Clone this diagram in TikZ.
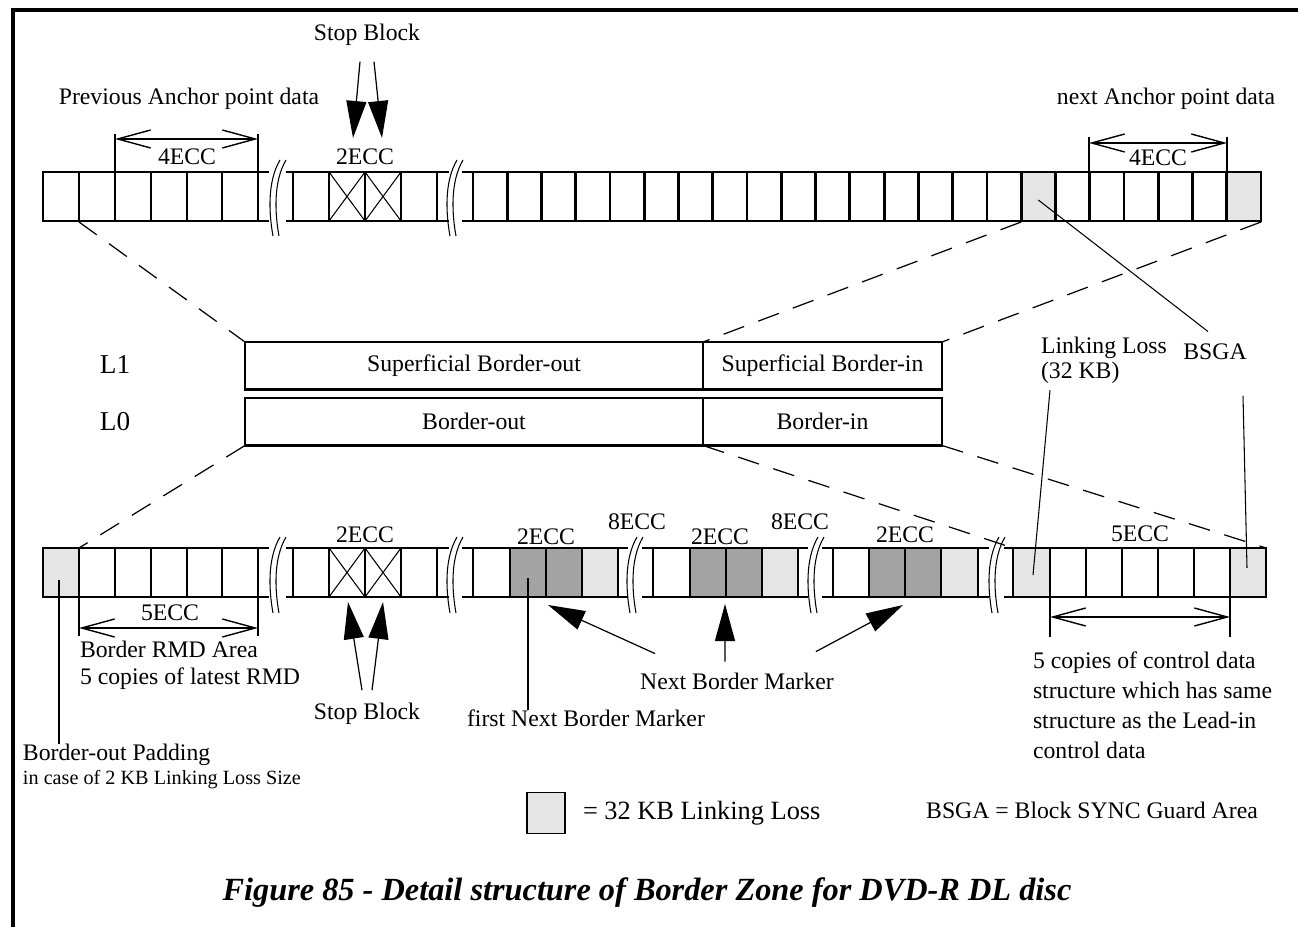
\documentclass[tikz,border=0pt]{standalone}
\usepackage{fontspec}
\setmainfont{Liberation Serif}
\usetikzlibrary{arrows.meta, positioning}

\begin{document}
\begin{tikzpicture}[x=0.2mm, y=-0.2mm,
    every node/.style={align=center, inner sep=0pt, outer sep=0pt, font=\fontsize{13.5}{15.3}\selectfont},
    cellline/.style={line width=1.6pt, line cap=rect},
    thinline/.style={line width=0.6pt},
    cutmark/.style={line width=0.6pt},
    dimline/.style={line width=1pt},
    dimarrow/.style={{Straight Barb[length=6.6mm,width=3.6mm]}-{Straight Barb[length=6.6mm,width=3.6mm]}, line width=0.8pt},
    fatarrow/.style={-{Triangle[length=7.4mm,width=4mm]}, line width=0.7pt},
    zoomline/.style={dash pattern=on 4.4mm off 3mm, line width=0.7pt},
    layerbox/.style={draw, line width=1.4pt, minimum height=9.5mm}]
  \colorlet{lossbg}{black!10} \colorlet{markbg}{black!36}
  \useasboundingbox (0,0) rectangle (1298,927);
  \draw[line width=2pt] (13,927) -- (13,10) -- (1298,10);

  % upper row
  \fill[lossbg] ({473+16*34.26},172) rectangle ({473+17*34.26},221) ({473+22*34.26},172) rectangle (1261,221);
  \foreach \xa/\xb in {43/268, 287/448, 463/1261}
    \draw[cellline] (\xa,172) -- (\xb,172) (\xa,221) -- (\xb,221);
  \foreach \x in {43,79,115,151,187,222,258,293,329,365,401,437}
    \draw[cellline] (\x,172) -- (\x,221);
  \foreach \i in {0,...,23}
    \draw[cellline] ({473+34.26*\i},172) -- ({473+34.26*\i},221);

  % lower row
  \fill[lossbg] (43,548) rectangle (79,597) (582,548) rectangle (618,597) (762,548) rectangle (798,597)
    (941,548) rectangle (978,597) (1013,548) rectangle (1050,597) (1230,548) rectangle (1266,597);
  \fill[markbg] (510,548) rectangle (582,597) (690,548) rectangle (762,597) (869,548) rectangle (941,597);
  \foreach \xa/\xb in {43/268, 287/448, 463/627, 643/807, 823/988, 1005/1266}
    \draw[cellline] (\xa,548) -- (\xb,548) (\xa,597) -- (\xb,597);
  \foreach \x in {43,79,115,151,187,222,258,293,329,365,401,437,473,510,546,582,618,653,690,726,762,798,
                  833,869,905,941,978,1013,1050,1086,1122,1158,1194,1230,1266}
    \draw[cellline] (\x,548) -- (\x,597);

  \foreach \x/\y in {329/172, 365/172, 329/548, 365/548}
    \draw[thinline] (\x,\y) -- ++(36,49) (\x,\y+49) -- ++(36,-49);

  \foreach \xc/\yt in {278/160, 455/160, 278/537, 455/537, 635/537, 816/537, 997/537}
    \foreach \d in {-3,3}
      \draw[cutmark] (\xc+\d+5,\yt) .. controls (\xc+\d-8,\yt+22) and (\xc+\d-6,\yt+54) .. (\xc+\d-2,\yt+76);

  % dimensions
  \draw[dimline] (115,172) -- (115,134) (258,172) -- (258,134);
  \draw[dimarrow] (115,139) -- (258,139);
  \draw[dimline] (1089,172) -- (1089,137) (1227,172) -- (1227,137);
  \draw[dimarrow] (1089,143) -- (1227,143);
  \draw[dimline] (79,597) -- (79,636) (258,597) -- (258,636);
  \draw[dimarrow] (79,628) -- (258,628);
  \draw[dimline] (1050,597) -- (1050,637) (1230,597) -- (1230,637);
  \draw[dimarrow] (1050,617) -- (1230,617);

  \node at (187,157) {4ECC};
  \node at (1158,158) {4ECC};
  \node at (365,157) {2ECC};
  \node at (365,535) {2ECC};
  \node at (546,537) {2ECC};
  \node at (720,537) {2ECC};
  \node at (905,535) {2ECC};
  \node at (637,522) {8ECC};
  \node at (800,522) {8ECC};
  \node at (170,613) {5ECC};
  \node at (1140,534) {5ECC};

  % layers
  \node (l1) at (115,365) [font=\fontsize{15.5}{17}\selectfont] {L1};
  \node (l0) at (115,422) [font=\fontsize{15.5}{17}\selectfont] {L0};
  \node[layerbox, minimum width=91.6mm, anchor=north west] (sbo) at (245,342) {Superficial Border-out};
  \node[layerbox, minimum width=47.8mm, right=0mm of sbo] (sbi) {Superficial Border-in};
  \node[layerbox, minimum width=91.6mm, anchor=north west] (bo) at (245,398) {Border-out};
  \node[layerbox, minimum width=47.8mm, right=0mm of bo] (bi) {Border-in};

  \coordinate (tL) at (79,222);
  \coordinate (tM) at ({473+16*34.26},222);
  \coordinate (tR) at (1261,222);
  \coordinate (bL) at (79,548);
  \coordinate (bM) at (1013,548);
  \coordinate (bR) at (1266,548);
  \draw[zoomline] (tL) -- (sbo.north west);
  \draw[zoomline] (tM) -- (sbi.north west);
  \draw[zoomline] (tR) -- (sbi.north east);
  \draw[zoomline] (bo.south west) -- (bL);
  \draw[zoomline] (bi.south west) -- (bM);
  \draw[zoomline] (bi.south east) -- (bR);

  % labels
  \node (stoptop) at (367,35) {Stop Block};
  \node (prevanc) at (189,99) {Previous Anchor point data};
  \node (nextanc) at (1166,99) {next Anchor point data};
  \coordinate (sbTa) at (353,138);
  \coordinate (sbTb) at (382,138);
  \draw[fatarrow] ([xshift=-1.4mm,yshift=-3.2mm]stoptop.south) -- (sbTa);
  \draw[fatarrow] ([xshift=1.4mm,yshift=-3.2mm]stoptop.south) -- (sbTb);

  \node (bsga) at (1215,352) {BSGA};
  \node[align=left, anchor=west, font=\fontsize{13.5}{14.2}\selectfont] (linkloss) at (1041,360) {Linking Loss\\(32 KB)};
  \coordinate (tBsga) at ({473+16.5*34.26},200);
  \coordinate (bBsga) at (1247,568);
  \coordinate (bLoss) at (1033,575);
  \draw[thinline] (tBsga) -- ([xshift=-1.4mm,yshift=2.5mm]bsga.north);
  \draw[thinline] ([xshift=5.6mm,yshift=-7.2mm]bsga.south) -- (bBsga);
  \draw[thinline] ([xshift=1.8mm,yshift=-1.4mm]linkloss.south west) -- (bLoss);

  \node[align=left, anchor=west] (rmd) at (80,665) {Border RMD Area\\5 copies of latest RMD};
  \node (stopbot) at (367,714) {Stop Block};
  \coordinate (sbBa) at (348,602);
  \coordinate (sbBb) at (383,602);
  \draw[fatarrow] ([xshift=-1mm,yshift=2.6mm]stopbot.north) -- (sbBa);
  \draw[fatarrow] ([xshift=1mm,yshift=2.6mm]stopbot.north) -- (sbBb);

  \node (nbm) at (737,681) {Next Border Marker};
  \coordinate (nbA) at (548,605);
  \coordinate (nbB) at (725,604);
  \coordinate (nbC) at (903,605);
  \draw[fatarrow] ([xshift=3mm,yshift=3.8mm]nbm.north west) -- (nbA);
  \draw[fatarrow] ([xshift=-2.4mm,yshift=2.2mm]nbm.north) -- (nbB);
  \draw[fatarrow] ([xshift=-3.6mm,yshift=4.2mm]nbm.north east) -- (nbC);

  \node (fnbm) at (586,718) {first Next Border Marker};
  \coordinate (fmark) at (528,578);
  \draw[thinline] (fmark) -- (fmark |- fnbm.north);

  \node[anchor=west] (bop) at (23,755) {Border-out Padding};
  \node[anchor=west, font=\fontsize{11.5}{13}\selectfont] (bopsize) at (23,780) {in case of 2 KB Linking Loss Size};
  \coordinate (pad) at (59,580);
  \draw[thinline] (pad) -- (pad |- bop.north);

  \node[align=left, anchor=north west, font=\fontsize{13.5}{17}\selectfont] (ctrl) at (1033,652)
    {5 copies of control data\\structure which has same\\structure as the Lead-in\\control data};

  % legend
  \node[draw, line width=1pt, fill=lossbg, minimum width=7.6mm, minimum height=8.2mm] (legbox) at (546,813) {};
  \node[right=3.6mm of legbox, font=\fontsize{15}{17}\selectfont] (legtext) {= 32 KB Linking Loss};
  \node (bsgadef) at (1092,810) {BSGA = Block SYNC Guard Area};

  \node[font=\fontsize{18.4}{20}\selectfont\bfseries\itshape] (caption) at (647,893)
    {Figure 85 - Detail structure of Border Zone for DVD-R DL disc};
\end{tikzpicture}
\end{document}
